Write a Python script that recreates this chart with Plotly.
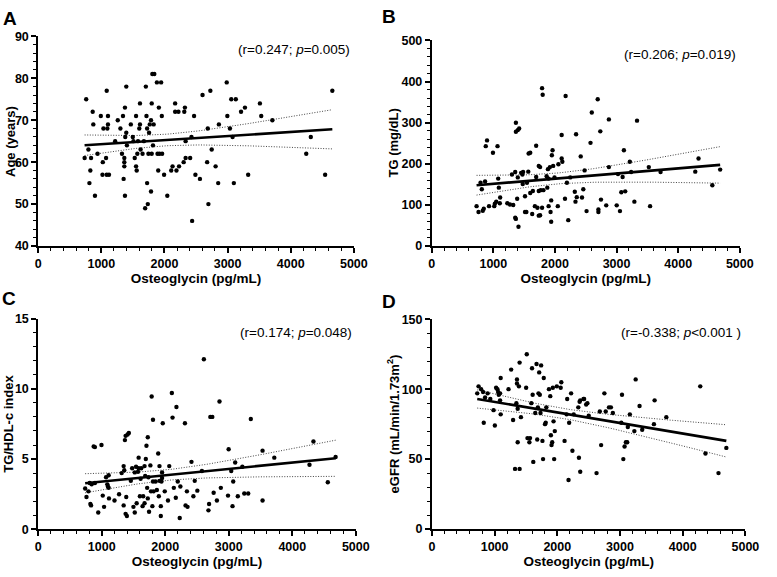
import numpy as np
import plotly.graph_objects as go

# ---------------- data ----------------
ogn_a = [735, 760, 795, 811, 826, 837, 863, 873, 899, 940, 992, 1023, 1033, 1018, 1075, 1085, 1095, 1105, 1105, 1085, 1121,
         1219, 1260, 1302, 1327, 1343, 1353, 1364, 1364, 1364, 1374, 1379, 1395, 1395, 1405, 1374, 1467, 1498, 1508, 1529,
         1550, 1550, 1560, 1570, 1581, 1601, 1612, 1612, 1622, 1653, 1674, 1694, 1705, 1715, 1725, 1725, 1736, 1746, 1756,
         1767, 1787, 1798, 1787, 1798, 1808, 1818, 1829, 1839, 1880, 1890, 1901, 1911, 1921, 1947, 1958, 1963, 1994, 2045,
         2107, 2128, 2169, 2169, 2190, 2221, 2231, 2304, 2314, 2324, 2335, 2335, 2407, 2428, 2438, 2469, 2490, 2562, 2603,
         2676, 2686, 2696, 2727, 2748, 2810, 2851, 2862, 2986, 2996, 3037, 3058, 3079, 3099, 3130, 3213, 3275, 3326, 3512,
         3533, 3709, 4246, 4318, 4545, 4659]
age = [61, 75, 63, 55, 58, 61, 72, 69, 52, 62, 71, 60, 68, 57, 61, 77, 68, 69, 71, 57, 57,
       65, 70, 68, 62, 71, 56, 61, 60, 59, 73, 66, 78, 67, 64, 52, 69, 66, 65, 61,
       71, 59, 58, 62, 65, 68, 74, 69, 63, 62, 65, 49, 78, 71, 68, 55, 50, 62, 67,
       69, 70, 74, 53, 62, 81, 64, 69, 81, 79, 62, 58, 73, 62, 79, 71, 62, 57, 52,
       58, 59, 74, 72, 58, 72, 59, 60, 72, 73, 65, 61, 61, 66, 46, 71, 57, 56, 76,
       60, 68, 50, 77, 63, 59, 55, 69, 79, 71, 68, 75, 66, 55, 75, 72, 73, 57, 74,
       71, 70, 62, 66, 57, 77]

ogn_b = [728, 760, 792, 813, 829, 845, 866, 877, 898, 930, 994, 1015, 1025, 1047, 1068, 1079, 1089, 1111, 1105, 1227,
         1270, 1302, 1323, 1355, 1355, 1366, 1366, 1366, 1387, 1397, 1397, 1408, 1419, 1451, 1472, 1477, 1483, 1514, 1514,
         1536, 1546, 1567, 1573, 1599, 1599, 1631, 1642, 1674, 1695, 1695, 1716, 1737, 1737, 1737, 1759, 1759, 1769, 1791,
         1791, 1801, 1812, 1865, 1876, 1886, 1897, 1897, 1918, 1929, 1939, 1939, 1950, 1961, 1971, 1993, 2046, 2056, 2109,
         2109, 2120, 2163, 2173, 2194, 2216, 2248, 2322, 2333, 2343, 2354, 2418, 2439, 2460, 2481, 2513, 2577, 2598, 2694,
         2705, 2705, 2736, 2747, 2832, 2875, 2875, 3002, 3023, 3055, 3077, 3098, 3119, 3140, 3215, 3236, 3289, 3332, 3523,
         3544, 3714, 4277, 4330, 4554, 4681]
tg = [97, 83, 154, 138, 86, 91, 157, 243, 257, 97, 227, 97, 103, 108, 243, 164, 142, 118, 104, 104,
      101, 174, 100, 180, 69, 66, 300, 278, 115, 282, 167, 47, 286, 178, 174, 151, 180, 121, 83,
      83, 154, 181, 225, 227, 129, 78, 134, 97, 244, 168, 93, 195, 134, 74, 192, 75, 136, 93,
      384, 368, 136, 170, 142, 187, 97, 164, 192, 83, 59, 111, 221, 233, 195, 167, 97, 199, 270,
      213, 205, 115, 365, 154, 63, 167, 132, 108, 272, 119, 218, 118, 138, 184, 85, 251, 325, 357,
      89, 83, 279, 113, 99, 308, 192, 99, 175, 85, 131, 168, 233, 133, 205, 180, 108, 305, 192,
      97, 180, 181, 213, 148, 186]

ogn_c = [739, 760, 791, 811, 821, 832, 842, 873, 893, 996, 893, 945, 1016, 1037, 1068, 1088, 1098, 1109, 1114, 1109,
         1201, 1273, 1314, 1345, 1355, 1345, 1365, 1376, 1407, 1427, 1376, 1396, 1386, 1458, 1479, 1499, 1520, 1520, 1540,
         1550, 1571, 1581, 1581, 1601, 1612, 1622, 1643, 1653, 1674, 1674, 1684, 1694, 1704, 1715, 1725, 1725, 1735, 1745,
         1766, 1776, 1786, 1797, 1807, 1807, 1817, 1848, 1868, 1889, 1899, 1909, 1909, 1930, 1930, 1940, 1950, 1961, 1950,
         1992, 2043, 2063, 2104, 2115, 2135, 2176, 2166, 2197, 2228, 2238, 2310, 2320, 2351, 2341, 2413, 2443, 2464, 2505,
         2577, 2608, 2680, 2690, 2710, 2741, 2762, 2813, 2854, 2875, 2988, 2998, 3039, 3059, 3070, 3101, 3142, 3214, 3244,
         3306, 3347, 3532, 3532, 3717, 4271, 4333, 4559, 4682]
tg_hdl = [2.9, 2.3, 2.7, 3.3, 1.8, 1.7, 3.2, 5.9, 5.85, 6.0, 3.3, 1.2, 2.4, 1.6, 3.7, 3.2, 3.05, 3.85, 2.2, 2.95,
          2.05, 2.5, 4.0, 4.5, 4.2, 1.7, 6.35, 6.65, 6.75, 6.85, 1.1, 0.95, 2.3, 3.45, 4.35, 1.6, 1.2, 4.05, 4.45,
          1.85, 4.1, 5.1, 4.35, 2.35, 3.6, 4.35, 1.65, 2.35, 1.85, 4.5, 3.8, 5.0, 5.95, 2.95, 6.55, 2.2, 3.7, 1.25,
          4.55, 2.7, 9.45, 1.65, 7.8, 3.4, 2.7, 3.4, 2.8, 5.4, 2.35, 4.5, 3.45, 0.95, 1.65, 3.4, 3.65, 7.55, 4.05,
          2.7, 2.05, 4.5, 9.7, 7.95, 2.95, 8.7, 2.25, 3.4, 0.8, 3.05, 7.55, 1.7, 1.6, 2.7, 4.8, 2.35, 3.45, 2.75,
          4.15, 12.1, 1.35, 1.8, 8.0, 8.0, 2.6, 2.05, 9.1, 2.95, 2.4, 5.7, 4.15, 1.65, 3.4, 4.75, 2.35, 4.45, 2.55,
          2.55, 7.85, 2.05, 5.6, 5.1, 4.6, 6.25, 3.35, 5.15]

ogn_d = [723, 744, 785, 816, 827, 848, 889, 931, 983, 1004, 1024, 1045, 1056, 1066, 1087, 1097, 1097, 1087, 1222, 1264,
         1295, 1326, 1347, 1357, 1357, 1368, 1368, 1388, 1399, 1399, 1420, 1503, 1513, 1524, 1555, 1565, 1586, 1597, 1607,
         1617, 1648, 1669, 1680, 1690, 1700, 1711, 1721, 1732, 1742, 1763, 1773, 1784, 1804, 1815, 1825, 1867, 1888, 1898,
         1908, 1919, 1929, 1940, 1950, 1960, 1992, 2054, 2064, 2116, 2148, 2158, 2179, 2189, 2220, 2241, 2262, 2335, 2345,
         2356, 2366, 2366, 2418, 2428, 2460, 2480, 2501, 2626, 2678, 2699, 2751, 2772, 2824, 2855, 2886, 3021, 3032, 3053,
         3073, 3094, 3115, 3125, 3157, 3229, 3250, 3312, 3354, 3541, 3552, 3739, 4280, 4363, 4571, 4696]
egfr = [97, 102, 100, 98, 76, 94, 97, 93, 85, 74, 101, 100, 98, 96, 97, 108, 82, 92, 100, 114,
        78, 43, 90, 107, 104, 86, 62, 102, 119, 43, 80, 101, 125, 65, 62, 65, 90, 115, 96,
        48, 83, 118, 64, 87, 97, 112, 96, 83, 117, 63, 50, 108, 75, 76, 87, 100, 95, 67,
        60, 62, 101, 77, 50, 70, 102, 101, 105, 63, 82, 93, 35, 76, 97, 56, 82, 87, 51,
        91, 92, 41, 93, 93, 89, 90, 81, 40, 84, 60, 97, 84, 87, 87, 83, 76, 96, 50,
        59, 62, 62, 73, 82, 70, 107, 88, 71, 75, 92, 80, 102, 54, 40, 58]

x_ticks = [0, 1000, 2000, 3000, 4000, 5000]
x_title = "Osteoglycin (pg/mL)"

panels = [
    dict(letter="A", x=ogn_a, y=age, yrange=[40, 90], ydtick=10, yminor=2, ytitle="Age (years)",
         stat="(r=0.247; <i>p</i>=0.005)"),
    dict(letter="B", x=ogn_b, y=tg, yrange=[0, 500], ydtick=100, yminor=20, ytitle="TG (mg/dL)",
         stat="(r=0.206; <i>p</i>=0.019)"),
    dict(letter="C", x=ogn_c, y=tg_hdl, yrange=[0, 15], ydtick=5, yminor=1, ytitle="TG/HDL-c index",
         stat="(r=0.174; <i>p</i>=0.048)"),
    dict(letter="D", x=ogn_d, y=egfr, yrange=[0, 150], ydtick=50, yminor=10,
         ytitle="eGFR (mL/min/1.73m<sup>2</sup>)", stat="(r=-0.338; <i>p</i>&lt;0.001 )"),
]

# ---------------- layout geometry (pixels) ----------------
W, H = 777, 577
# left, right, top, bottom of each plot area in pixels
boxes = [
    (36, 358.7, 30, 245),
    (438.3, 753.3, 34.3, 245),
    (36, 360.7, 319.3, 535.3),
    (438.5, 759, 320, 535),
]
letter_pos = [(7, 12), (395, 10), (6, 299), (395, 302)]
ytitle_x = [7, 399, 6, 399]


def px(x):
    return x / W


def py(y):
    return 1 - y / H


FONT = "Liberation Sans, Arial, Helvetica, sans-serif"
T_CRIT = 1.98

fig = go.Figure()
annotations = []
layout_axes = {}

for i, p in enumerate(panels):
    k = "" if i == 0 else str(i + 1)
    xa, ya = "x" + k, "y" + k
    x = np.array(p["x"], dtype=float)
    y = np.array(p["y"], dtype=float)

    # linear regression with 95% confidence band
    n = len(x)
    xbar, ybar = x.mean(), y.mean()
    sxx = ((x - xbar) ** 2).sum()
    b = ((x - xbar) * (y - ybar)).sum() / sxx
    a = ybar - b * xbar
    s = np.sqrt(((y - (a + b * x)) ** 2).sum() / (n - 2))
    xg = np.linspace(x.min(), x.max(), 80)
    yg = a + b * xg
    half = T_CRIT * s * np.sqrt(1.0 / n + (xg - xbar) ** 2 / sxx)

    for band in (yg + half, yg - half):
        fig.add_trace(go.Scatter(x=xg, y=band, mode="lines", xaxis=xa, yaxis=ya,
                                 line=dict(color="#444444", width=1, dash="1px,1.6px"),
                                 hoverinfo="skip", showlegend=False))
    fig.add_trace(go.Scatter(x=x, y=y, mode="markers", xaxis=xa, yaxis=ya,
                             marker=dict(color="black", size=4.4), showlegend=False))
    fig.add_trace(go.Scatter(x=xg, y=yg, mode="lines", xaxis=xa, yaxis=ya,
                             line=dict(color="black", width=2.6), showlegend=False))

    l, r, t, bt = boxes[i]
    common = dict(showline=True, linecolor="black", linewidth=1.8, ticks="outside", ticklen=5,
                  tickwidth=1.5, tickcolor="black", showgrid=False, zeroline=False,
                  tickfont=dict(family=FONT, size=12.5, color="black", weight="bold"))
    layout_axes["xaxis" + k] = dict(
        domain=[px(l), px(r)], anchor=ya, range=[0, 5000], tickvals=x_ticks,
        minor=dict(ticks="outside", ticklen=3, tickwidth=1.2, tickcolor="black", dtick=200, tick0=0),
        title=dict(text=x_title, font=dict(family=FONT, size=13.5, color="black", weight="bold"), standoff=2),
        **common)
    layout_axes["yaxis" + k] = dict(
        domain=[py(bt), py(t)], anchor=xa, range=p["yrange"], dtick=p["ydtick"], tick0=0,
        minor=dict(ticks="outside", ticklen=3, tickwidth=1.2, tickcolor="black", dtick=p["yminor"], tick0=0),
        **common)

    annotations.append(dict(text=p["ytitle"], x=px(ytitle_x[i]), y=py((t + bt) / 2), xref="paper", yref="paper",
                            textangle=-90, showarrow=False, xanchor="center", yanchor="middle",
                            font=dict(family=FONT, size=13, color="black", weight="bold")))
    annotations.append(dict(text=p["letter"], x=px(letter_pos[i][0]), y=py(letter_pos[i][1]), xref="paper",
                            yref="paper", showarrow=False, xanchor="center", yanchor="middle",
                            font=dict(family=FONT, size=19, color="black", weight="bold")))
    annotations.append(dict(text=p["stat"], x=px(r - 2), y=py(t + 14), xref="paper", yref="paper",
                            showarrow=False, xanchor="right", yanchor="middle",
                            font=dict(family=FONT, size=13.5, color="black")))

fig.update_layout(width=W, height=H, margin=dict(l=0, r=0, t=0, b=0), plot_bgcolor="white",
                  paper_bgcolor="white", showlegend=False, annotations=annotations, **layout_axes)

fig.write_html(
    "out.html",
    config={"displayModeBar": False},
    post_script="document.body.style.margin='0';document.body.style.padding='0';"
                "document.documentElement.style.overflow='hidden';document.body.style.overflow='hidden';",
)
